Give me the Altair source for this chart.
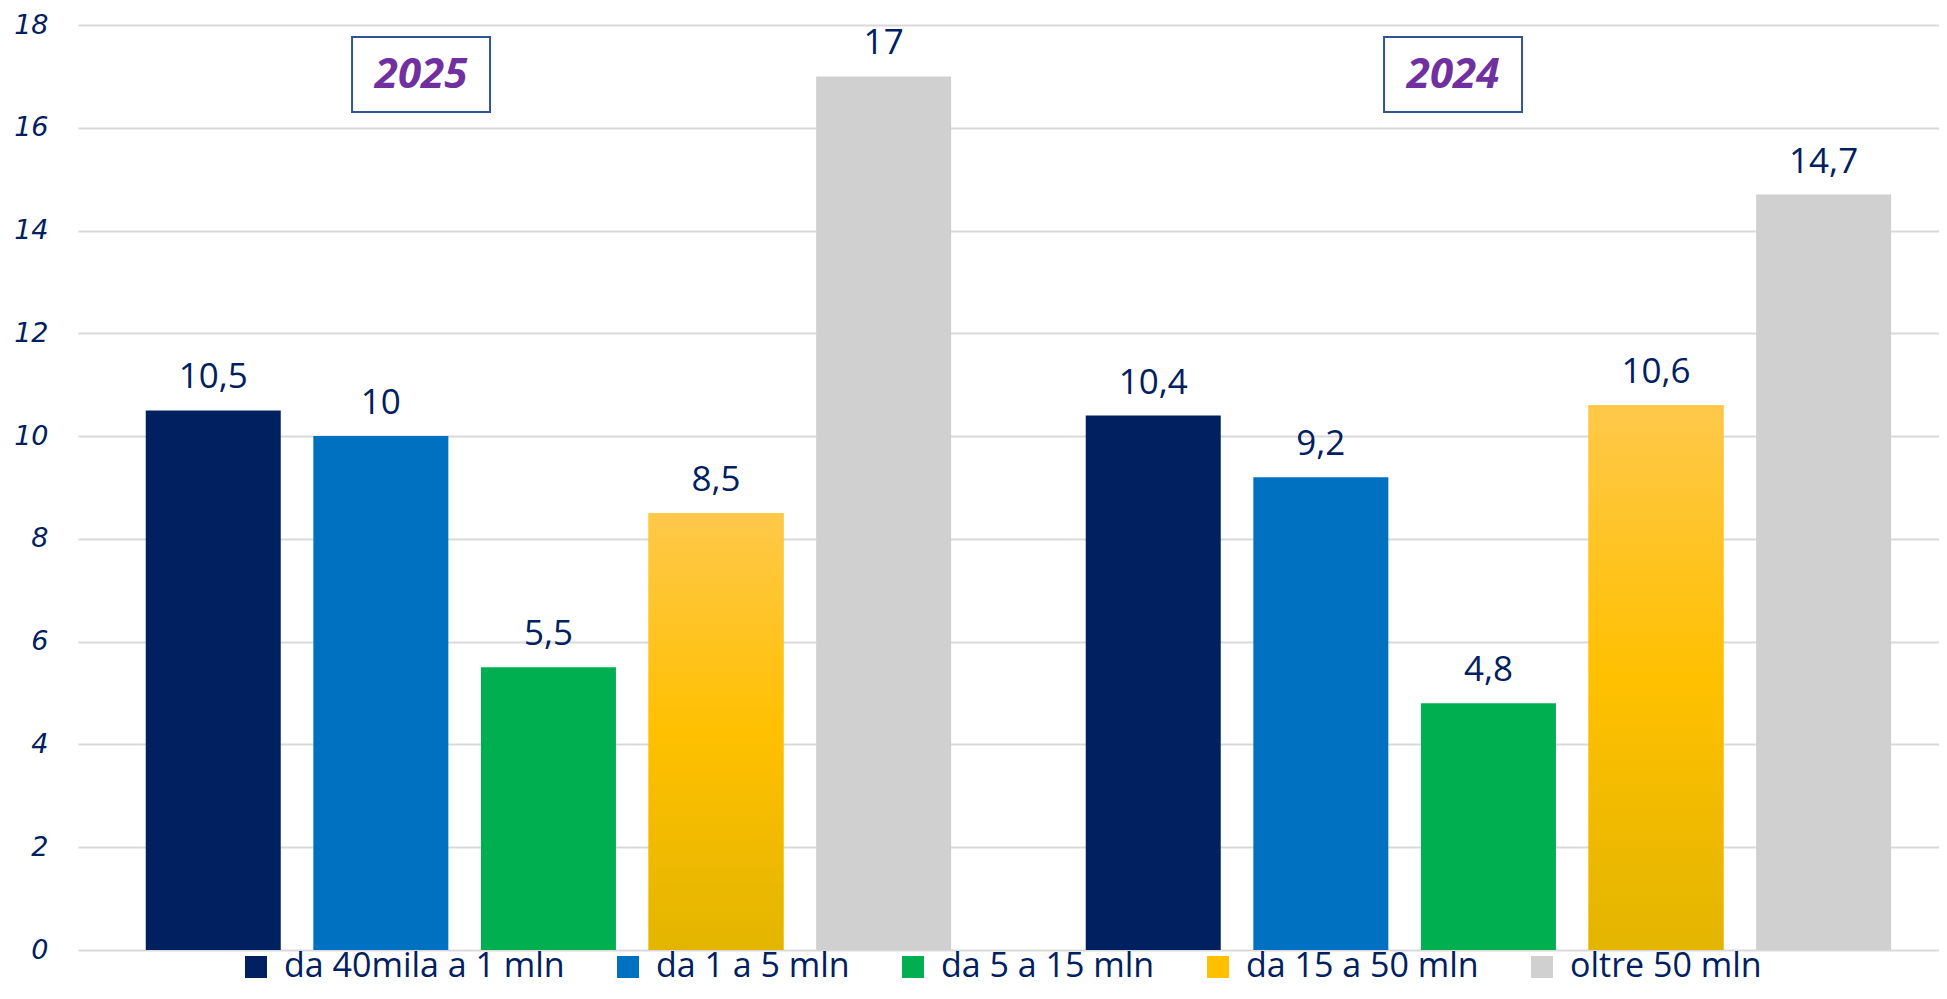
import altair as alt
import pandas as pd

years = ["2025", "2024"]
categories = ["da 40mila a 1 mln", "da 1 a 5 mln", "da 5 a 15 mln", "da 15 a 50 mln", "oltre 50 mln"]
values_2025 = [10.5, 10, 5.5, 8.5, 17]
values_2024 = [10.4, 9.2, 4.8, 10.6, 14.7]
colors = ["#002060", "#0070C0", "#00B050", "#FFC000", "#D0D0D0"]
y_ticks = [0, 2, 4, 6, 8, 10, 12, 14, 16, 18]

rows = []
for yr, vals in zip(years, [values_2025, values_2024]):
    for c, v in zip(categories, vals):
        rows.append({"year": yr, "category": c, "value": v})
df = pd.DataFrame(rows)
ann_df = pd.DataFrame({"year": years, "label": years})

NAVY = "#002060"
x_enc = alt.X("year:N", sort=years,
              scale=alt.Scale(domain=years, paddingInner=0.1432, paddingOuter=0.0615, align=0.586),
              axis=None)
xo_enc = alt.XOffset("category:N", sort=categories,
                     scale=alt.Scale(domain=categories, paddingInner=0.1945, paddingOuter=0))
y_enc = alt.Y("value:Q",
              scale=alt.Scale(domain=[0, 18], nice=False, zero=True),
              axis=alt.Axis(values=y_ticks, grid=True, gridColor="#D9D9D9", gridWidth=2,
                            domain=False, ticks=False, labelPadding=30,
                            labelFont="DejaVu Sans", labelFontStyle="italic",
                            labelFontSize=27, labelColor=NAVY, title=None))

base = alt.Chart(df).encode(x=x_enc, xOffset=xo_enc, y=y_enc)

bars = base.mark_bar().encode(
    color=alt.Color("category:N", sort=categories,
                    scale=alt.Scale(domain=categories, range=colors),
                    legend=alt.Legend(title=None, orient="none", direction="horizontal",
                                      legendX=161, legendY=925,
                                      symbolType="square", symbolSize=484, symbolStrokeWidth=0,
                                      labelOffset=11, columnPadding=46,
                                      labelFont="Open Sans", labelFontSize=34,
                                      labelColor=NAVY, labelLimit=0))
)

gold = alt.Gradient(gradient="linear", x1=0, x2=0, y1=0, y2=1,
                    stops=[alt.GradientStop(color="#FFC84A", offset=0),
                           alt.GradientStop(color="#FFC000", offset=0.5),
                           alt.GradientStop(color="#E3B500", offset=1)])
yellow = base.transform_filter(alt.datum.category == "da 15 a 50 mln").mark_bar(fill=gold)

labels = base.transform_calculate(
    lab="replace(toString(datum.value), '.', ',')"
).mark_text(baseline="alphabetic", align="center", dy=-22, font="Open Sans",
            fontSize=35, color=NAVY).encode(text="lab:N")

def year_box(yr, off):
    src = alt.Chart(ann_df).transform_filter(alt.datum.year == yr)
    box = src.mark_point(shape="M-1,-0.5435H1V0.5435H-1Z", size=19044, filled=False,
                         stroke="#2F5597", strokeWidth=2, opacity=1).encode(
        x=alt.X("year:N", sort=years, axis=None), xOffset=alt.value(off), y=alt.value(49.5))
    txt = src.mark_text(baseline="middle", align="center", font="Open Sans", fontSize=42,
                        fontWeight="bold", fontStyle="italic", color="#7030A0").encode(
        x=alt.X("year:N", sort=years, axis=None), xOffset=alt.value(off), y=alt.value(50),
        text="label:N")
    return box + txt

chart = alt.layer(bars, yellow, labels, year_box("2025", 275.3), year_box("2024", 367.3)).properties(
    width=1861, height=925,
    autosize=alt.AutoSizeParams(type="none"),
    padding={"left": 70, "top": 17, "right": 0, "bottom": 41},
    background="white",
).configure_view(stroke=None)

chart.save("out.html", embed_options={"renderer": "svg", "actions": False})
